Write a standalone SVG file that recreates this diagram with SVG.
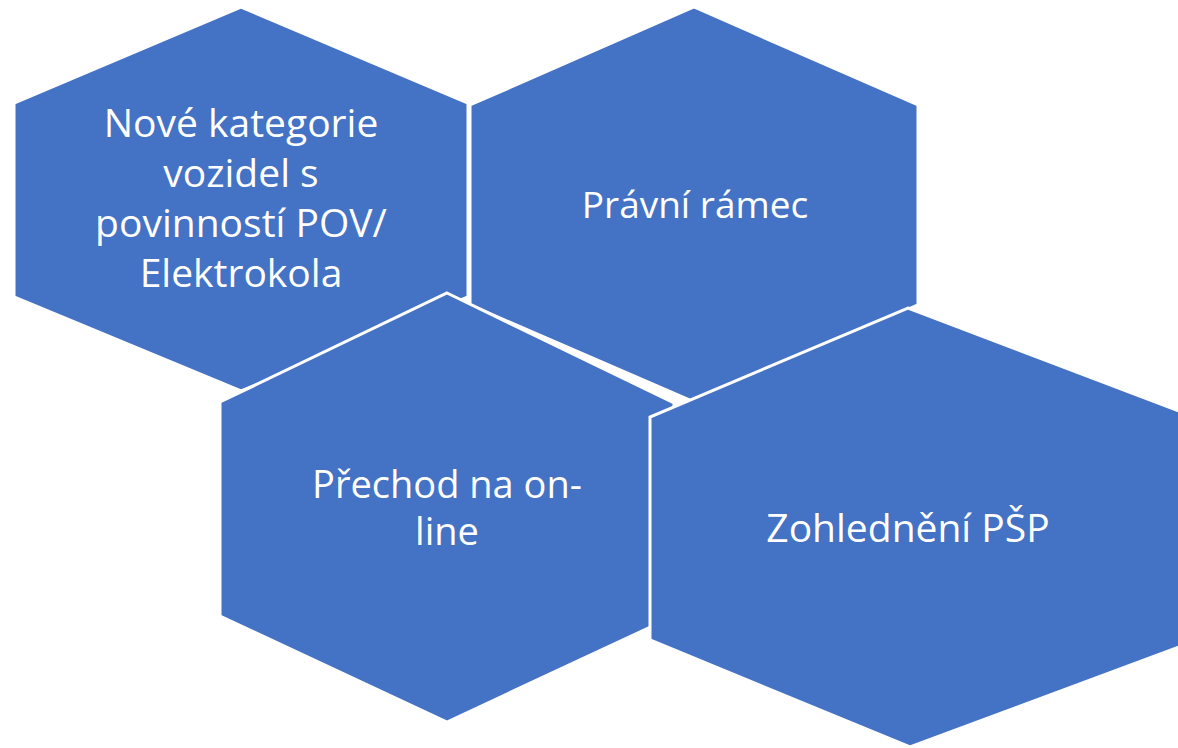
<svg xmlns="http://www.w3.org/2000/svg" width="1178" height="748" viewBox="0 0 1178 748">
<style>
.hex{fill:#4472C4;stroke:#FFFFFF;stroke-width:3;stroke-linejoin:miter}
.t{fill:#FFFFFF;font-family:"Open Sans","Noto Sans",sans-serif;text-anchor:middle}
</style>
<rect width="1178" height="748" fill="#FFFFFF"/>
<g id="node1">
<polygon class="hex" points="241,7 468,103 468,297 241,391 14,297 14,103"/>
<text class="t" font-size="39"><tspan x="241" y="137">Nové kategorie</tspan><tspan x="241" y="187">vozidel s</tspan><tspan x="241" y="237">povinností POV/</tspan><tspan x="241" y="287">Elektrokola</tspan></text>
</g>
<g id="node2">
<polygon class="hex" points="694,7 918,105 918,305 694,402 470,305 470,105"/>
<text class="t" font-size="37" x="695" y="218">Právní rámec</text>
</g>
<g id="node3">
<polygon class="hex" points="447,293 674,403 674,616 447,722 220,616 220,402"/>
<text class="t" font-size="38"><tspan x="447" y="498">Přechod na on-</tspan><tspan x="447" y="545">line</tspan></text>
</g>
<g id="node4">
<polygon class="hex" points="908,308 1184,413 1184,645 910,747 650,640 650,417"/>
<text class="t" font-size="39" x="908" y="542">Zohlednění PŠP</text>
</g>
<g id="connectors"></g>
</svg>
